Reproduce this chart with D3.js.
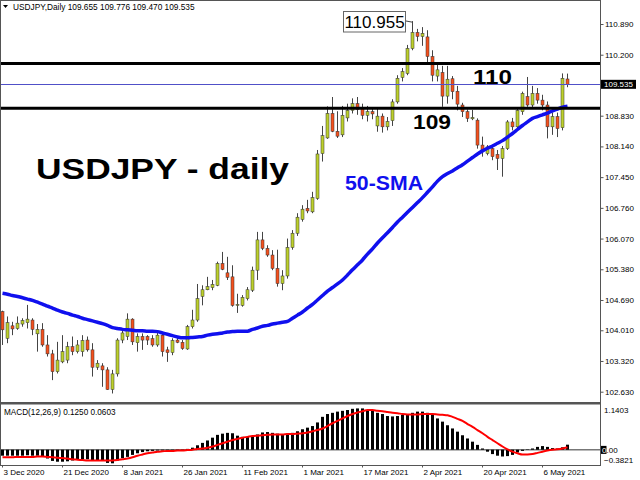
<!DOCTYPE html>
<html><head><meta charset="utf-8">
<script src="https://cdn.jsdelivr.net/npm/d3@7"></script>
<style>html,body{margin:0;padding:0;background:#fff;}svg{display:block;}</style>
</head><body>
<svg id="c" width="640" height="480"></svg>
<script>
const dates = ["2020-12-03","2020-12-04","2020-12-07","2020-12-08","2020-12-09","2020-12-10","2020-12-11","2020-12-14","2020-12-15","2020-12-16","2020-12-17","2020-12-18","2020-12-21","2020-12-22","2020-12-23","2020-12-24","2020-12-28","2020-12-29","2020-12-30","2020-12-31",
"2021-01-04","2021-01-05","2021-01-06","2021-01-07","2021-01-08","2021-01-11","2021-01-12","2021-01-13","2021-01-14","2021-01-15","2021-01-18","2021-01-19","2021-01-20","2021-01-21","2021-01-22","2021-01-25","2021-01-26","2021-01-27","2021-01-28","2021-01-29",
"2021-02-01","2021-02-02","2021-02-03","2021-02-04","2021-02-05","2021-02-08","2021-02-09","2021-02-10","2021-02-11","2021-02-12","2021-02-15","2021-02-16","2021-02-17","2021-02-18","2021-02-19","2021-02-22","2021-02-23","2021-02-24","2021-02-25","2021-02-26",
"2021-03-01","2021-03-02","2021-03-03","2021-03-04","2021-03-05","2021-03-08","2021-03-09","2021-03-10","2021-03-11","2021-03-12","2021-03-15","2021-03-16","2021-03-17","2021-03-18","2021-03-19","2021-03-22","2021-03-23","2021-03-24","2021-03-25","2021-03-26","2021-03-29","2021-03-30","2021-03-31",
"2021-04-01","2021-04-02","2021-04-05","2021-04-06","2021-04-07","2021-04-08","2021-04-09","2021-04-12","2021-04-13","2021-04-14","2021-04-15","2021-04-16","2021-04-19","2021-04-20","2021-04-21","2021-04-22","2021-04-23","2021-04-26","2021-04-27","2021-04-28","2021-04-29","2021-04-30",
"2021-05-03","2021-05-04","2021-05-05","2021-05-06","2021-05-07","2021-05-10","2021-05-11","2021-05-12","2021-05-13"];

const open = [104.43,103.83,104.11,104.05,104.15,104.18,104.24,103.93,104.03,103.68,
103.48,103.08,103.30,103.34,103.64,103.53,103.53,103.79,103.57,103.18,
103.21,103.12,102.68,103.03,103.79,103.87,104.26,103.73,103.87,103.87,
103.82,103.68,103.90,103.57,103.51,103.79,103.74,103.59,104.09,104.24,
104.77,104.92,104.97,105.02,105.51,105.30,105.21,104.57,104.57,104.72,
104.91,105.36,106.04,105.85,105.70,105.40,105.06,105.23,105.87,106.19,
106.50,106.75,106.67,106.97,107.98,108.33,108.88,108.48,108.40,108.78,
108.95,109.10,108.99,108.84,108.92,108.60,108.82,108.58,108.72,109.14,
109.69,109.78,110.34,110.70,110.61,110.60,110.16,109.72,109.80,109.27,
109.66,109.38,109.07,108.92,108.76,108.73,108.17,107.98,108.09,107.96,
107.87,108.09,108.69,108.58,108.92,109.26,109.07,109.33,109.18,109.07,
108.58,108.81,108.56,109.655];

const high = [104.45,104.32,104.20,104.32,104.28,104.58,104.28,104.15,104.17,103.90,
103.57,103.75,103.90,103.75,103.87,103.79,103.90,103.87,103.72,103.34,
103.27,103.18,103.12,103.83,104.02,104.39,104.28,103.94,103.94,103.90,
103.90,103.98,103.94,103.64,103.83,103.87,103.79,104.13,104.47,105.05,
105.02,105.21,105.14,105.55,105.77,105.66,105.47,104.83,104.80,104.98,
105.44,106.22,106.22,105.92,105.81,105.82,105.36,106.07,106.26,106.64,
106.82,106.94,107.12,108.06,108.60,109.04,109.25,108.93,109.05,109.10,
109.22,109.25,109.10,109.05,109.00,108.98,108.88,108.80,109.20,109.74,
109.90,110.42,110.955,110.78,110.82,110.75,110.30,110.00,109.95,109.95,
109.72,109.50,109.12,108.97,108.96,108.77,108.36,108.17,108.17,108.06,
108.15,108.73,108.78,109.00,109.37,109.70,109.50,109.45,109.30,109.15,
108.90,108.90,109.78,109.776];

const low = [103.68,103.72,103.90,104.02,104.09,104.05,103.90,103.53,103.64,103.42,
102.89,103.04,103.27,103.27,103.45,103.49,103.42,103.53,102.97,103.12,
102.74,102.67,102.59,102.97,103.72,103.79,103.68,103.53,103.57,103.68,
103.64,103.64,103.42,103.30,103.45,103.72,103.57,103.57,104.05,104.20,
104.57,104.91,104.91,105.00,105.36,105.14,104.54,104.40,104.54,104.68,
104.87,105.14,105.81,105.66,105.36,104.99,104.91,105.17,105.82,106.13,
106.45,106.64,106.64,106.94,107.80,108.31,108.46,108.33,108.35,108.70,
108.88,108.85,108.75,108.70,108.75,108.47,108.45,108.50,108.60,109.10,
109.60,109.74,110.30,110.50,110.40,109.97,109.60,109.60,109.03,109.10,
109.20,108.95,108.80,108.69,108.73,108.09,107.91,107.94,107.83,107.61,
107.46,108.06,108.50,108.50,108.85,109.03,109.00,109.10,108.95,108.32,
108.40,108.35,108.50,109.470];

const close = [104.02,104.18,104.04,104.17,104.23,104.26,104.03,104.03,103.68,103.48,
103.08,103.34,103.53,103.64,103.53,103.68,103.78,103.57,103.18,103.27,
103.12,102.68,103.03,103.79,103.95,104.26,103.75,103.87,103.79,103.79,
103.68,103.90,103.53,103.51,103.78,103.74,103.60,104.09,104.24,104.72,
104.92,104.99,105.04,105.51,105.38,105.20,104.57,104.59,104.75,104.92,
105.36,106.04,105.85,105.70,105.40,105.06,105.23,105.87,106.19,106.55,
106.73,106.69,106.99,107.97,108.38,108.88,108.48,108.37,108.84,108.95,
109.10,108.97,108.84,108.92,108.87,108.82,108.58,108.70,109.14,109.67,
109.82,110.34,110.70,110.61,110.68,110.16,109.74,109.86,109.27,109.65,
109.37,109.09,108.92,108.77,108.79,108.17,108.06,108.13,107.91,107.87,
108.09,108.69,108.58,108.95,109.33,109.07,109.33,109.18,109.07,108.58,
108.81,108.54,109.67,109.535];

const sma50 = [104.84,104.82,104.79,104.77,104.74,104.71,104.68,104.64,104.60,104.55,
104.51,104.46,104.42,104.39,104.35,104.32,104.28,104.25,104.22,104.19,
104.16,104.12,104.07,104.05,104.03,104.02,104.01,104.00,104.00,103.99,
103.99,103.98,103.95,103.92,103.89,103.86,103.84,103.84,103.85,103.86,
103.87,103.90,103.92,103.93,103.95,103.97,103.98,103.99,103.99,103.99,
104.03,104.06,104.10,104.12,104.15,104.17,104.19,104.21,104.28,104.35,
104.42,104.51,104.59,104.69,104.79,104.89,104.97,105.05,105.14,105.25,
105.37,105.48,105.59,105.72,105.84,105.97,106.09,106.20,106.32,106.44,
106.55,106.66,106.77,106.88,106.99,107.11,107.23,107.36,107.46,107.53,
107.59,107.66,107.73,107.81,107.89,107.97,108.04,108.10,108.15,108.21,
108.27,108.35,108.43,108.52,108.61,108.69,108.77,108.81,108.85,108.89,
108.94,108.98,109.02,109.04];

const macdMain = [-0.15,-0.15,-0.15,-0.15,-0.15,-0.14,-0.15,-0.15,-0.16,
-0.22,-0.28,-0.30,-0.30,-0.29,-0.27,-0.25,-0.24,-0.24,-0.26,-0.26,-0.27,
-0.33,-0.34,-0.27,-0.21,-0.18,-0.13,-0.09,-0.06,-0.04,-0.03,-0.02,-0.02,-0.02,-0.02,-0.01,-0.02,
0.02,0.05,0.11,0.17,0.23,0.30,0.37,0.40,0.42,0.41,0.35,0.32,0.32,0.33,0.38,0.43,0.44,0.42,0.40,0.39,0.40,0.42,0.46,0.51,0.55,0.59,0.68,
0.82,0.89,0.92,0.95,0.97,0.99,1.02,1.03,1.03,0.99,0.97,0.92,0.89,0.84,0.83,0.84,0.87,0.89,0.92,0.95,
0.95,0.92,0.87,0.78,0.70,0.61,0.53,0.45,0.36,0.28,0.20,0.12,0.03,-0.05,-0.11,-0.15,-0.17,-0.16,-0.13,-0.07,
-0.03,0.01,0.03,0.07,0.09,0.07,0.04,0.03,0.06,0.125];

const macdSignal = [-0.19,-0.19,-0.19,-0.18,-0.18,-0.18,-0.18,-0.17,-0.17,
-0.18,-0.19,-0.20,-0.21,-0.22,-0.24,-0.25,-0.26,-0.27,-0.27,-0.27,-0.27,
-0.27,-0.27,-0.26,-0.24,-0.22,-0.19,-0.15,-0.12,-0.09,-0.07,-0.05,-0.04,-0.03,-0.03,-0.02,-0.02,
-0.01,0.00,0.02,0.03,0.05,0.08,0.12,0.16,0.20,0.24,0.27,0.30,0.32,0.34,0.35,0.36,0.37,0.38,0.38,0.38,0.39,0.39,0.40,0.41,0.43,0.46,0.49,
0.53,0.59,0.66,0.72,0.78,0.84,0.89,0.93,0.96,0.99,0.99,0.97,0.96,0.94,0.92,0.91,0.89,0.88,0.88,0.88,
0.89,0.89,0.89,0.88,0.87,0.86,0.82,0.77,0.72,0.64,0.57,0.49,0.41,0.32,0.24,0.16,0.08,0.01,-0.05,-0.09,
-0.12,-0.12,-0.11,-0.08,-0.05,-0.02,0.00,0.01,0.03,0.0603];

const priceTicks = [110.890,110.200,108.830,108.140,107.450,106.760,106.070,105.380,104.690,104.010,103.320,102.630];
const dateTicks = ["2020-12-03","2020-12-21","2021-01-08","2021-01-26","2021-02-11","2021-03-01","2021-03-17","2021-04-02","2021-04-20","2021-05-06"];
const dateTickLabels = ["3 Dec 2020","21 Dec 2020","8 Jan 2021","26 Jan 2021","11 Feb 2021","1 Mar 2021","17 Mar 2021","2 Apr 2021","20 Apr 2021","6 May 2021"];
const levels = [110.0, 109.0];
const levelLabels = ["110","109"];
const bid = 109.535;
const peakValue = 110.955;
const macdRange = [-0.3821, 1.1403];
const title = "USDJPY,Daily";

const svg = d3.select("#c");
const FONT = "'Liberation Sans', Arial, sans-serif";
const bullC = "#bdd02c", bearC = "#f4511e", frameC = "#555";

const x = d3.scalePoint().domain(dates).range([2, 567]);
const y = d3.scaleLinear().domain([102.63, 110.89]).range([391.7, 24]);
const ym = d3.scaleLinear().domain(macdRange).range([465, 404]);

svg.append("rect").attr("width",640).attr("height",480).attr("fill","#fff");

svg.append("defs").append("clipPath").attr("id","pc")
  .append("rect").attr("x",1).attr("y",1).attr("width",599.5).attr("height",401);
svg.select("defs").append("clipPath").attr("id","mc")
  .append("rect").attr("x",1).attr("y",405).attr("width",599.5).attr("height",60);

const data = dates.map((d,i)=>({d, o:open[i], h:high[i], l:low[i], c:close[i], s:sma50[i], m:macdMain[i], g:macdSignal[i]}));

// price panel
const pg = svg.append("g").attr("clip-path","url(#pc)");
const cg = pg.selectAll("g.c").data(data).join("g").attr("class","c");
cg.append("line")
  .attr("x1",d=>x(d.d)+0.5).attr("x2",d=>x(d.d)+0.5)
  .attr("y1",d=>y(d.h)).attr("y2",d=>y(d.l))
  .attr("stroke","#444").attr("stroke-width",1);
cg.append("rect")
  .attr("x",d=>x(d.d)-1).attr("width",3)
  .attr("y",d=>y(Math.max(d.o,d.c)))
  .attr("height",d=>Math.max(1, Math.abs(y(d.o)-y(d.c))))
  .attr("fill",d=>d.c>=d.o?bullC:bearC)
  .attr("stroke","#333").attr("stroke-width",0.5);

// SMA
pg.append("path").datum(data)
  .attr("d", d3.line().x(d=>x(d.d)+0.5).y(d=>y(d.s)).curve(d3.curveMonotoneX))
  .attr("fill","none").attr("stroke","#1010ee").attr("stroke-width",3.5)
  .attr("stroke-linejoin","round");

// bid line
pg.append("line").attr("x1",0).attr("x2",601).attr("y1",Math.round(y(bid))+0.5).attr("y2",Math.round(y(bid))+0.5)
  .attr("stroke","#5050c8").attr("stroke-width",1);

// level lines
pg.selectAll("line.lv").data(levels).join("line").attr("class","lv")
  .attr("x1",0).attr("x2",601).attr("y1",d=>y(d)).attr("y2",d=>y(d))
  .attr("stroke","#000").attr("stroke-width",3);

// peak label
const peakIdx = high.indexOf(peakValue);
const px = x(dates[peakIdx]);
svg.append("line").attr("x1",406).attr("y1",21).attr("x2",px).attr("y2",y(peakValue)+1)
  .attr("stroke","#444").attr("stroke-width",1);
svg.append("rect").attr("x",343.5).attr("y",11.5).attr("width",62).attr("height",20.5)
  .attr("fill","#fff").attr("stroke","#666").attr("stroke-width",1);
svg.append("text").attr("x",374.5).attr("y",27.5).attr("text-anchor","middle")
  .attr("font-family",FONT).attr("font-size",17).attr("fill","#000")
  .text(d3.format(".3f")(peakValue));

// level labels
svg.append("text").attr("x",473).attr("y",83.5).attr("font-family",FONT).attr("font-weight","bold")
  .attr("font-size",20).attr("textLength",39).attr("lengthAdjust","spacingAndGlyphs").text(levelLabels[0]);
svg.append("text").attr("x",413).attr("y",128.5).attr("font-family",FONT).attr("font-weight","bold")
  .attr("font-size",20).attr("textLength",38).attr("lengthAdjust","spacingAndGlyphs").text(levelLabels[1]);

// big titles
svg.append("text").attr("x",36).attr("y",179).attr("font-family",FONT).attr("font-weight","bold")
  .attr("font-size",29).attr("textLength",253).attr("lengthAdjust","spacingAndGlyphs").attr("fill","#000")
  .text("USDJPY - daily");
svg.append("text").attr("x",345).attr("y",190).attr("font-family",FONT).attr("font-weight","bold")
  .attr("font-size",19.5).attr("textLength",78).attr("lengthAdjust","spacingAndGlyphs").attr("fill","#1010ee")
  .text("50-SMA");

// header
svg.append("path").attr("d","M3,5 L8,5 L5.5,8 Z").attr("fill","#000");
svg.append("text").attr("x",13).attr("y",10).attr("font-family",FONT).attr("font-size",8.3).attr("fill","#000")
  .text(title + "  " + [open[113],high[113],low[113],close[113]].map(d3.format(".3f")).join(" "));

// MACD panel
const mg = svg.append("g").attr("clip-path","url(#mc)");
mg.append("line").attr("x1",0).attr("x2",601).attr("y1",ym(0)).attr("y2",ym(0))
  .attr("stroke","#777").attr("stroke-width",1.5);
mg.selectAll("rect.h").data(data).join("rect").attr("class","h")
  .attr("x",d=>x(d.d)-1).attr("width",3)
  .attr("y",d=>Math.min(ym(0),ym(d.m)))
  .attr("height",d=>Math.abs(ym(d.m)-ym(0)))
  .attr("fill","#000");
mg.append("path").datum(data)
  .attr("d", d3.line().x(d=>x(d.d)+0.5).y(d=>ym(d.g)).curve(d3.curveMonotoneX))
  .attr("fill","none").attr("stroke","#f00").attr("stroke-width",2);
svg.append("text").attr("x",4).attr("y",414.5).attr("font-family",FONT).attr("font-size",8.2)
  .text("MACD(12,26,9) " + d3.format(".4f")(macdMain[113]) + " " + d3.format(".4f")(macdSignal[113]));

// frame
svg.append("rect").attr("x",0.5).attr("y",0.5).attr("width",600).attr("height",465).attr("fill","none").attr("stroke",frameC);
svg.append("rect").attr("x",0).attr("y",402).attr("width",601).attr("height",2.5).attr("fill",frameC);

// price axis
const pa = svg.append("g").attr("transform","translate(600.5,0)")
  .call(d3.axisRight(y).tickValues(priceTicks).tickFormat(d3.format(".3f")).tickSize(3).tickPadding(1.5));
pa.select(".domain").remove();
pa.selectAll("line").attr("stroke",frameC);
pa.selectAll("text").attr("font-family",FONT).attr("font-size",8).attr("fill","#000");

// bid label
const by = y(bid);
svg.append("rect").attr("x",601).attr("y",by-4.5).attr("width",35).attr("height",9).attr("fill","#000");
svg.append("text").attr("x",604).attr("y",by+3).attr("font-family",FONT).attr("font-size",8).attr("fill","#fff")
  .text(d3.format(".3f")(bid));

// macd axis labels
svg.append("text").attr("x",604).attr("y",ym(macdRange[1])+9).attr("font-family",FONT).attr("font-size",8)
  .text(d3.format(".4f")(macdRange[1]));
svg.append("text").attr("x",604).attr("y",ym(macdRange[0])-2).attr("font-family",FONT).attr("font-size",8)
  .text(d3.format(".4f")(macdRange[0]));
svg.append("rect").attr("x",601).attr("y",ym(0)-3.8).attr("width",5.5).attr("height",8).attr("fill","#000");
svg.append("text").attr("x",602).attr("y",ym(0)+3).attr("font-family",FONT).attr("font-size",8)
  .selectAll("tspan").data([["0","#fff"],[".00","#000"]]).join("tspan").attr("fill",d=>d[1]).text(d=>d[0]);

// date axis
const da = svg.append("g").attr("transform","translate(0,465.5)")
  .call(d3.axisBottom(x).tickValues(dateTicks).tickFormat((d,i)=>dateTickLabels[i]).tickSize(2).tickPadding(2));
da.select(".domain").remove();
da.selectAll("line").attr("stroke",frameC);
da.selectAll("text").attr("text-anchor","start").attr("dx",1).attr("font-family",FONT).attr("font-size",8).attr("fill","#000");
</script>
</body></html>
